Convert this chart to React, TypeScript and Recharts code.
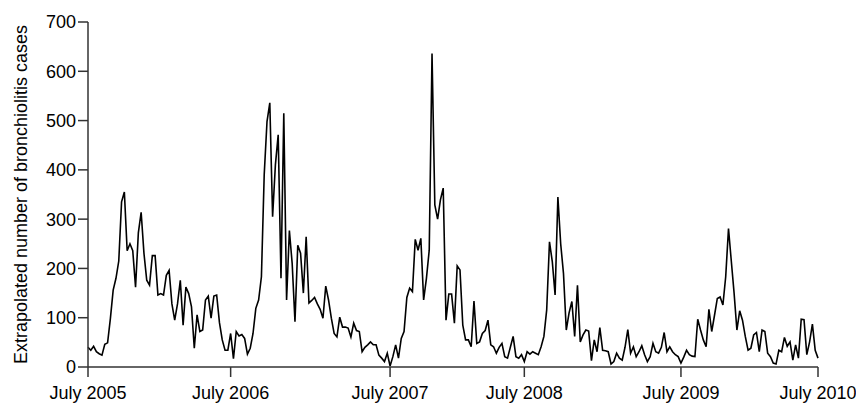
import { LineChart, Line, XAxis, YAxis, Label } from "recharts";

// weekly extrapolated bronchiolitis cases, July 2005 - July 2010
const weeks2005 = [
  40, 34, 42, 31, 27, 24, 46, 49, 98, 156, 180, 215, 335, 355, 236, 250, 236, 162, 272, 314,
  231, 176, 166, 226, 226, 146, 149, 146, 186, 196, 128, 95, 128, 176, 85, 162, 149, 122, 38, 106,
  72, 75, 136, 144, 99, 144, 146, 90, 55, 34, 34, 68,
];
const weeks2006 = [
  17, 72, 63, 66, 58, 26, 38, 68, 119, 136, 183, 390, 498, 536, 305, 410, 471, 180, 515, 136,
  277, 210, 92, 247, 231, 150, 264, 130, 135, 141, 128, 117, 99, 164, 136, 99, 68, 61, 101, 81,
  81, 79, 61, 89, 74, 72, 31, 40, 45, 51, 45, 45, 24, 18, 11, 28,
];
const weeks2007 = [
  2, 21, 45, 18, 58, 72, 141, 160, 153, 259, 237, 261, 136, 180, 237, 636, 329, 300, 339, 363,
  95, 148, 148, 89, 205, 197, 85, 55, 55, 41, 134, 48, 51, 68, 74, 95, 45, 41, 28, 40,
  48, 21, 18, 40, 62, 21, 18, 25,
];
const weeks2008 = [
  11, 31, 26, 31, 28, 25, 41, 62, 116, 254, 214, 146, 345, 250, 190, 75, 110, 133, 62, 166,
  51, 65, 75, 73, 13, 55, 31, 80, 34, 33, 31, 6, 11, 28, 18, 14, 40, 76, 28, 41,
  21, 31, 43, 25, 11, 21, 48, 31, 28, 40, 70, 31, 41, 31, 25, 21,
];
const weeks2009 = [
  8, 20, 34, 25, 22, 21, 97, 75, 55, 41, 117, 72, 105, 139, 142, 126, 183, 281, 215, 150,
  75, 114, 95, 62, 34, 38, 65, 70, 31, 75, 72, 28, 21, 8, 6, 34, 31, 60, 42, 51,
  14, 45, 18, 97, 96, 25, 51, 87, 34, 18,
];

const tickWeeks = [0, 51, 108, 156, 212, 261];
const tickLabels = ["July 2005", "July 2006", "July 2007", "July 2008", "July 2009", "July 2010"];
const yTicks = [0, 100, 200, 300, 400, 500, 600, 700];

const cases = [...weeks2005, ...weeks2006, ...weeks2007, ...weeks2008, ...weeks2009];
const data = cases.map((v, i) => ({ week: i, cases: v }));

const font = "'Liberation Sans', Arial, Helvetica, sans-serif";
const axisColor = "#333";

export default function App() {
  return (
    <div
      style={{
        position: "absolute",
        left: 0,
        top: 0,
        width: 856,
        height: 404,
        overflow: "hidden",
        fontFamily: font,
        background: "#fff",
      }}
    >
      <LineChart
        width={856}
        height={404}
        data={data}
        margin={{ top: 22, right: 38, bottom: 0, left: 8 }}
      >
        <XAxis
          dataKey="week"
          type="number"
          domain={[0, 261]}
          ticks={tickWeeks}
          tickFormatter={(w: number) => tickLabels[tickWeeks.indexOf(w)] ?? ""}
          tick={{ fill: "#000", fontSize: 18, fontFamily: font }}
          tickSize={10}
          tickMargin={9}
          height={37}
          axisLine={{ stroke: axisColor, strokeWidth: 1.5 }}
          tickLine={{ stroke: axisColor, strokeWidth: 1.5 }}
          interval={0}
        />
        <YAxis
          domain={[0, 700]}
          ticks={yTicks}
          width={80}
          tick={{ fill: "#000", fontSize: 18, fontFamily: font }}
          tickSize={10}
          tickMargin={2}
          axisLine={{ stroke: axisColor, strokeWidth: 1.5 }}
          tickLine={{ stroke: axisColor, strokeWidth: 1.5 }}
          interval={0}
        >
          <Label
            value="Extrapolated number of bronchiolitis cases"
            angle={-90}
            position="insideLeft"
            offset={13}
            style={{ textAnchor: "middle", fill: "#000", fontSize: 18, fontFamily: font }}
          />
        </YAxis>
        <Line
          type="linear"
          dataKey="cases"
          stroke="#000"
          strokeWidth={1.6}
          dot={false}
          isAnimationActive={false}
        />
      </LineChart>
    </div>
  );
}
